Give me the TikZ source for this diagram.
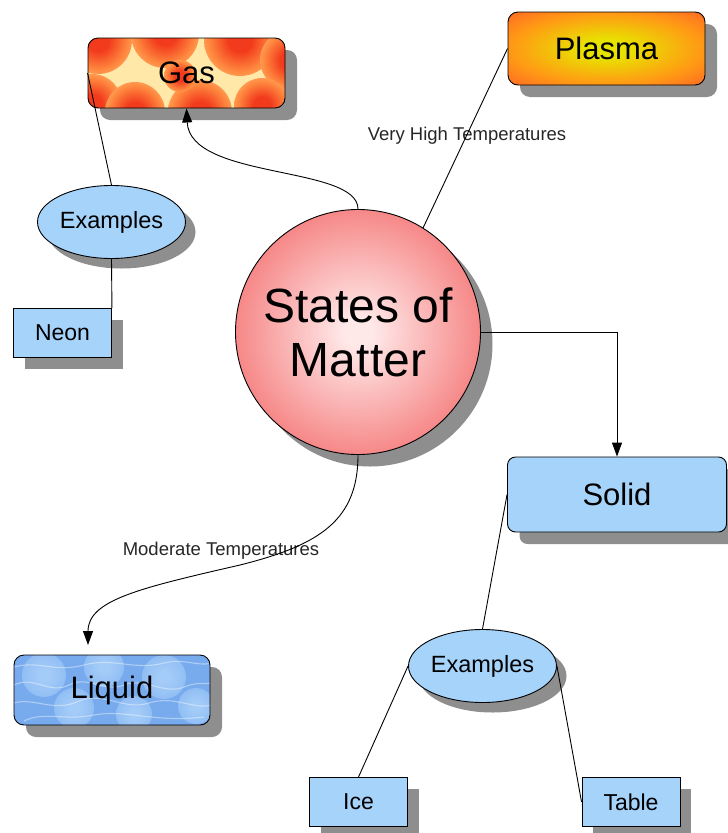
\documentclass[tikz,border=0pt]{standalone}
\usepackage{fontspec}
\setmainfont{Liberation Sans}
\usetikzlibrary{shapes.geometric,arrows.meta,shadows}
\definecolor{boxblue}{HTML}{A6D3FA}
\definecolor{shadegray}{HTML}{8E8E8E}
\definecolor{firered}{HTML}{F23A1C}
\definecolor{fireorange}{HTML}{FF8A40}
\definecolor{firebase}{HTML}{FFE8A8}
\definecolor{waterbase}{HTML}{78ABEE}
\definecolor{waterlight}{HTML}{A4CCF8}
\definecolor{plasmayellow}{HTML}{E8E200}
\definecolor{plasmaorange}{HTML}{FF9A14}
\definecolor{plasmared}{HTML}{FF4E2E}
\definecolor{ballcenter}{HTML}{FFE8E8}
\definecolor{ballouter}{HTML}{F04646}
\pgfdeclareradialshading{plasmashade}{\pgfpointorigin}{color(0bp)=(plasmayellow); color(6bp)=(plasmayellow); color(24bp)=(plasmaorange); color(42bp)=(plasmared); color(50bp)=(plasmared)}
\pgfdeclareradialshading{ballshade}{\pgfpointorigin}{color(0bp)=(ballcenter); color(3bp)=(ballcenter); color(40bp)=(ballouter); color(50bp)=(ballouter)}
\pgfdeclareradialshading{fireshade}{\pgfpointorigin}{color(0bp)=(firered); color(8bp)=(firered); color(22bp)=(fireorange); color(42bp)=(firebase); color(50bp)=(firebase)}
\pgfdeclareradialshading{watershade}{\pgfpointorigin}{color(0bp)=(waterlight); color(6bp)=(waterlight); color(50bp)=(waterbase)}
\newcommand\fireblob[3]{\shade[shading=fireshade] (#1,#2) circle (#3pt);}
\newcommand\waterblob[3]{\shade[shading=watershade] (#1,#2) circle (#3pt);}
\begin{document}
\begin{tikzpicture}[x=1pt,y=-1pt,
  shad/.style={drop shadow={shadow xshift=12pt,shadow yshift=-12pt,fill=shadegray,opacity=1}},
  smallshad/.style={drop shadow={shadow xshift=11pt,shadow yshift=-11pt,fill=shadegray,opacity=1}},
  bigfont/.style={font=\fontsize{31}{36}\selectfont},
  bigbox/.style={shad, draw=black, line width=0.9pt, rounded corners=10pt, inner sep=0pt, bigfont},
  texbox/.style={draw=black, line width=0.9pt, rounded corners=10pt, inner sep=0pt, bigfont},
  plasmabox/.style={bigbox, minimum width=197pt, minimum height=73pt, shading=plasmashade},
  solidbox/.style={shad, draw=black, line width=0.9pt, rounded corners=8pt, inner sep=0pt,
    fill=boxblue, minimum width=219pt, minimum height=75pt, bigfont},
  ball/.style={circle, shad, draw=black, line width=0.9pt, minimum size=245pt, inner sep=0pt,
    shading=ballshade, align=center, font=\fontsize{48}{54}\selectfont},
  exell/.style={ellipse, drop shadow={shadow xshift=10pt,shadow yshift=-10pt,fill=shadegray,opacity=1},
    draw=black, line width=0.9pt, fill=boxblue, minimum width=148pt, minimum height=73pt,
    inner sep=0pt, font=\fontsize{23.5}{28}\selectfont},
  smallbox/.style={rectangle, smallshad, draw=black, line width=0.9pt, fill=boxblue,
    minimum width=98pt, minimum height=49pt, inner sep=0pt, font=\fontsize{23}{28}\selectfont},
  lbl/.style={inner sep=0pt, text=black!85, font=\fontsize{18.5}{22}\selectfont},
  conn/.style={draw=black, line width=0.9pt},
  arr/.style={conn, -{Triangle[length=14pt,width=10pt]}},
  wave/.style={white, opacity=0.4, line width=1.1pt}
]
\useasboundingbox (0,0) rectangle (728,833);
% --- Gas box: shadow and fire texture ---
\fill[shadegray, rounded corners=10pt] (100,50) rectangle (297,120);
\begin{scope}
  \clip[rounded corners=10pt] (88,38) rectangle (285,108);
  \fill[firebase] (88,38) rectangle (285,108);
  \fireblob{98}{40}{34}
  \fireblob{165}{34}{34}
  \fireblob{240}{40}{36}
  \fireblob{290}{60}{30}
  \fireblob{92}{104}{30}
  \fireblob{135}{112}{30}
  \fireblob{200}{112}{32}
  \fireblob{262}{106}{28}
  \fireblob{180}{76}{16}
\end{scope}
% --- Liquid box: shadow and water texture ---
\fill[shadegray, rounded corners=10pt] (26,667) rectangle (222,737);
\begin{scope}
  \clip[rounded corners=10pt] (14,655) rectangle (210,725);
  \fill[waterbase] (14,655) rectangle (210,725);
  \waterblob{44}{675}{22}
  \waterblob{104}{667}{20}
  \waterblob{164}{677}{22}
  \waterblob{196}{706}{18}
  \waterblob{74}{708}{20}
  \waterblob{134}{714}{18}
  \begin{scope}[shift={(14,655)}]
    \draw[wave] (0,30) .. controls (20,20) and (35,40) .. (55,30) .. controls (75,20) and (90,38) .. (110,30)
      .. controls (130,22) and (150,40) .. (170,32) .. controls (185,26) and (190,30) .. (197,28);
    \draw[wave] (0,12) .. controls (25,5) and (40,18) .. (70,10) .. controls (100,2) and (120,16) .. (150,8)
      .. controls (170,3) and (185,12) .. (197,8);
    \draw[wave] (0,48) .. controls (20,42) and (40,58) .. (65,46) .. controls (90,36) and (110,56) .. (135,48)
      .. controls (160,40) and (180,55) .. (197,50);
    \draw[wave] (10,66) .. controls (30,56) and (50,66) .. (80,60) .. controls (110,54) and (140,68) .. (190,62);
  \end{scope}
\end{scope}
% --- nodes ---
\node[texbox, minimum width=197pt, minimum height=70pt] (gas) at (186.5,73) {Gas};
\node[texbox, minimum width=196pt, minimum height=70pt] (liquid) at (112,690) {Liquid};
\node[plasmabox] (plasma) at (606.5,48.5) {Plasma};
\node[ball] (som) at (358,332) {States of\\Matter};
\node[exell] (ex1) at (111.5,222) {Examples};
\node[smallbox] (neon) at (62.5,333) {Neon};
\node[solidbox] (solid) at (617,494.5) {Solid};
\node[exell] (ex2) at (482.5,666) {Examples};
\node[smallbox] (ice) at (358.5,802) {Ice};
\node[smallbox] (table) at (631,802) {Table};
\node[lbl] (vht) at (467,136) {Very High Temperatures};
\node[lbl] (mt) at (221,551) {Moderate Temperatures};
\coordinate (liqin) at (88,645);
% --- connectors ---
\draw[conn] (ex1.north) -- (gas.west);
\draw[conn] (ex1.south) -- (neon.north east);
\draw[arr] (som.north) .. controls (358,165) and (190,180) .. (gas.south);
\draw[conn] (som.58) -- (plasma.west);
\draw[arr] (som.east) -| (solid.north);
\draw[arr] (som.south) .. controls (358,520) and (320,545) .. (240,565)
  .. controls (140,588) and (88,600) .. (liqin);
\draw[conn] (solid.west) -- (ex2.north);
\draw[conn] (ex2.west) -- (ice.north);
\draw[conn] (ex2.east) -- (table.west);
\end{tikzpicture}
\end{document}
